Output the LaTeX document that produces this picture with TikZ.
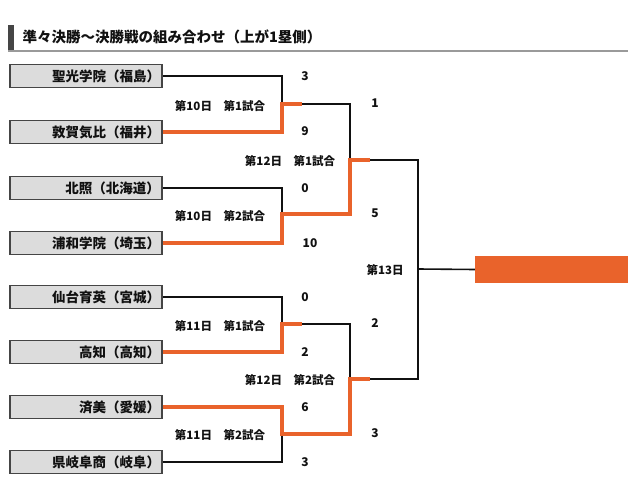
\documentclass[tikz,border=0pt]{standalone}
\usepackage{fontspec}
\setmainfont{Noto Sans CJK JP}
\usetikzlibrary{positioning,calc}
\definecolor{ink}{HTML}{111111}
\definecolor{frame}{HTML}{454545}
\definecolor{boxgrey}{HTML}{DCDCDC}
\definecolor{rule}{HTML}{9A9A9A}
\definecolor{win}{HTML}{E9632B}
\begin{document}
\begin{tikzpicture}[x=1pt,y=-1pt,
  team/.style={draw=frame,line width=1.8pt,fill=boxgrey,minimum height=23pt,text width=148pt,align=right,inner xsep=2pt,inner ysep=0pt,font=\fontsize{13.5}{14}\selectfont\bfseries,text=ink},
  lose/.style={draw=ink,line width=1.6pt},
  gain/.style={draw=win,line width=3.6pt},
  score/.style={font=\fontsize{12}{13}\selectfont\bfseries,text=ink},
  game/.style={font=\fontsize{11.5}{12}\selectfont\bfseries,text=ink}]
  \useasboundingbox (0,0) rectangle (640,500);
  % heading
  \fill[frame] (8,25) rectangle (14,50);
  \draw[rule,line width=2pt] (8,51) -- (628,51);
  \node[anchor=west,font=\fontsize{14.5}{15}\selectfont\bfseries,text=ink] (title) at (19,37) {準々決勝～決勝戦の組み合わせ（上が1塁側）};
  % teams
  \foreach \n/\y/\name in {1/76/聖光学院（福島）,2/132/敦賀気比（福井）,3/188/北照（北海道）,4/243/浦和学院（埼玉）,5/297/仙台育英（宮城）,6/352/高知（高知）,7/407/済美（愛媛）,8/462/県岐阜商（岐阜）}
    \node[team] (t\n) at (86,\y) {\name};
  % junctions
  \coordinate (j1) at (282,104); \coordinate (j1e) at (302,104);
  \coordinate (j2) at (282,214);
  \coordinate (j3) at (282,324); \coordinate (j3e) at (302,324);
  \coordinate (j4) at (282,434);
  \coordinate (k1) at (350,160); \coordinate (k1e) at (370,160);
  \coordinate (k2) at (350,379); \coordinate (k2e) at (370,379);
  \coordinate (fin) at (418,269);
  \node[fill=win,minimum width=153pt,minimum height=27pt,inner sep=0pt] (champ) at (551.5,269.5) {};
  % losing paths
  \draw[lose] (t1.east) -| (j1); \draw[lose] (j1e) -| (k1);
  \draw[lose] (t3.east) -| (j2);
  \draw[lose] (t5.east) -| (j3); \draw[lose] (j3e) -| (k2);
  \draw[lose] (t8.east) -| (j4);
  \draw[lose] (k1e) -| (fin); \draw[lose] (k2e) -| (fin); \draw[lose] (fin) -- (champ.west);
  % winning paths
  \draw[gain] (t2.east) -| (j1) -- (j1e);
  \draw[gain] (t4.east) -| (j2) -| (k1) -- (k1e);
  \draw[gain] (t6.east) -| (j3) -- (j3e);
  \draw[gain] (t7.east) -| (j4) -| (k2) -- (k2e);
  % scores
  \foreach \s/\x/\y/\v in {a/305/76/3,b/305/131/9,c/305/188/0,d/310/243/10,e/305/297/0,f/305/352/2,g/305/407/6,h/305/462/3,i/375/103/1,j/375/213/5,k/375/323/2,l/375/433/3}
    \node[score] (s\s) at (\x,\y) {\v};
  % game labels
  \node[game] (g1) at (220,106) {第10日　第1試合};
  \node[game] (g2) at (220,216) {第10日　第2試合};
  \node[game] (g3) at (220,326) {第11日　第1試合};
  \node[game] (g4) at (220,435) {第11日　第2試合};
  \node[game] (g5) at (290,161) {第12日　第1試合};
  \node[game] (g6) at (290,380) {第12日　第2試合};
  \node[game] (g7) at (385,270) {第13日};
\end{tikzpicture}
\end{document}
